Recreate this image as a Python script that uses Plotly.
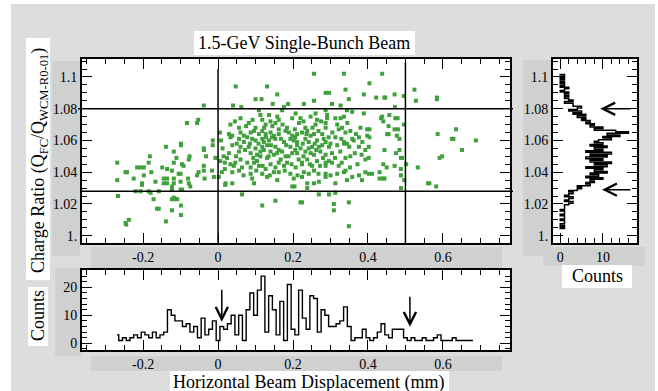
import plotly.graph_objects as go

W, H = 658, 391

# ---------------- data ----------------
# (horizontal displacement [mm], charge ratio) of each bunch
points = [
    (-0.038, 1.082), (-0.053, 1.073), (-0.056, 1.071), (-0.083, 1.071), (-0.099, 1.058), (-0.099, 1.057),
    (-0.139, 1.056), (-0.038, 1.055), (-0.038, 1.054), (-0.014, 1.060), (-0.014, 1.057), (-0.118, 1.053),
    (-0.182, 1.050), (-0.076, 1.050), (-0.111, 1.049), (-0.269, 1.046), (-0.185, 1.046), (-0.096, 1.045),
    (-0.092, 1.044), (-0.078, 1.048), (-0.118, 1.046), (-0.032, 1.050), (-0.007, 1.049), (0.015, 1.050),
    (-0.216, 1.043), (-0.207, 1.043), (-0.198, 1.043), (-0.149, 1.043), (-0.136, 1.042), (-0.123, 1.041),
    (-0.247, 1.040), (-0.243, 1.040), (-0.178, 1.040), (-0.198, 1.038), (-0.100, 1.039), (-0.056, 1.038),
    (-0.052, 1.040), (-0.038, 1.044), (-0.038, 1.041), (-0.016, 1.041), (-0.269, 1.035), (-0.225, 1.036),
    (-0.203, 1.033), (-0.203, 1.032), (-0.167, 1.034), (-0.145, 1.036), (-0.136, 1.036), (-0.145, 1.033),
    (-0.136, 1.033), (-0.118, 1.036), (-0.118, 1.033), (-0.123, 1.031), (-0.105, 1.039), (-0.100, 1.034),
    (-0.080, 1.036), (-0.078, 1.033), (-0.074, 1.031), (-0.036, 1.036), (-0.011, 1.037), (0.002, 1.037),
    (0.019, 1.032), (-0.220, 1.028), (-0.207, 1.028), (-0.185, 1.028), (-0.180, 1.027), (-0.158, 1.028),
    (-0.172, 1.023), (-0.267, 1.025), (-0.123, 1.029), (-0.118, 1.024), (-0.114, 1.023), (-0.109, 1.023),
    (-0.123, 1.023), (-0.100, 1.029), (-0.096, 1.029), (-0.163, 1.017), (-0.158, 1.017), (-0.123, 1.016),
    (-0.099, 1.019), (-0.099, 1.013), (-0.238, 1.010), (-0.247, 1.008), (-0.245, 1.007), (-0.139, 1.009),
    (0.018, 1.046), (0.018, 1.042), (0.008, 1.060), (0.012, 1.055), (0.006, 1.047), (0.010, 1.040),
    (0.005, 1.065),
    (0.256, 1.102), (0.336, 1.102), (0.047, 1.094), (0.131, 1.094), (0.287, 1.090), (0.296, 1.090),
    (0.340, 1.092), (0.158, 1.089), (0.100, 1.086), (0.116, 1.086), (0.256, 1.085), (0.349, 1.086),
    (0.389, 1.089), (0.146, 1.083), (0.187, 1.083), (0.229, 1.083), (0.304, 1.083), (0.327, 1.082),
    (0.040, 1.082), (0.062, 1.081),
    (0.109, 1.079), (0.136, 1.076), (0.171, 1.079), (0.176, 1.081), (0.207, 1.077), (0.260, 1.077),
    (0.287, 1.079), (0.291, 1.076), (0.344, 1.079), (0.358, 1.078), (0.389, 1.077),
    (0.060, 1.074), (0.113, 1.076), (0.118, 1.073), (0.140, 1.072), (0.162, 1.073), (0.198, 1.074),
    (0.220, 1.074), (0.247, 1.075), (0.264, 1.073), (0.291, 1.074), (0.313, 1.074), (0.327, 1.074),
    (0.336, 1.075), (0.287, 1.071),
    (0.033, 1.070), (0.056, 1.068), (0.082, 1.071), (0.100, 1.068), (0.127, 1.070), (0.153, 1.071),
    (0.162, 1.067), (0.184, 1.068), (0.216, 1.071), (0.233, 1.068), (0.260, 1.070), (0.287, 1.068),
    (0.322, 1.067), (0.331, 1.068), (0.380, 1.068), (0.398, 1.067),
    (0.029, 1.064), (0.038, 1.063), (0.060, 1.065), (0.069, 1.063), (0.087, 1.065), (0.096, 1.066),
    (0.109, 1.064), (0.118, 1.066), (0.127, 1.064), (0.140, 1.065), (0.149, 1.063), (0.162, 1.064),
    (0.189, 1.065), (0.198, 1.063), (0.211, 1.064), (0.224, 1.065), (0.247, 1.063), (0.256, 1.064),
    (0.278, 1.064), (0.313, 1.062), (0.340, 1.065), (0.353, 1.066), (0.362, 1.060), (0.398, 1.063),
    (0.033, 1.062), (0.056, 1.061), (0.069, 1.059), (0.091, 1.061), (0.100, 1.060), (0.118, 1.061),
    (0.122, 1.059), (0.136, 1.060), (0.144, 1.062), (0.153, 1.061), (0.176, 1.059), (0.193, 1.061),
    (0.202, 1.060), (0.211, 1.059), (0.233, 1.061), (0.242, 1.059), (0.264, 1.060), (0.287, 1.059),
    (0.300, 1.058), (0.336, 1.059), (0.344, 1.058), (0.358, 1.061), (0.376, 1.062), (0.402, 1.056),
    (0.038, 1.057), (0.060, 1.056), (0.082, 1.056), (0.100, 1.055), (0.118, 1.056), (0.131, 1.057),
    (0.153, 1.056), (0.162, 1.054), (0.193, 1.056), (0.211, 1.057), (0.220, 1.055), (0.242, 1.055),
    (0.251, 1.056), (0.269, 1.056), (0.278, 1.057), (0.296, 1.056), (0.336, 1.058), (0.376, 1.056),
    (0.029, 1.052), (0.056, 1.053), (0.087, 1.052), (0.104, 1.051), (0.113, 1.053), (0.140, 1.053),
    (0.149, 1.051), (0.171, 1.053), (0.180, 1.050), (0.198, 1.052), (0.211, 1.052), (0.233, 1.053),
    (0.247, 1.052), (0.256, 1.051), (0.273, 1.053), (0.287, 1.051), (0.304, 1.052), (0.353, 1.050),
    (0.393, 1.054),
    (0.024, 1.049), (0.033, 1.045), (0.060, 1.048), (0.096, 1.046), (0.113, 1.050), (0.131, 1.049),
    (0.140, 1.045), (0.167, 1.048), (0.184, 1.046), (0.224, 1.046), (0.238, 1.048), (0.264, 1.047),
    (0.287, 1.046), (0.304, 1.046), (0.340, 1.049), (0.393, 1.048), (0.402, 1.049),
    (0.042, 1.044), (0.064, 1.043), (0.087, 1.043), (0.109, 1.044), (0.127, 1.042), (0.153, 1.043),
    (0.176, 1.044), (0.207, 1.043), (0.224, 1.045), (0.251, 1.044), (0.256, 1.041), (0.287, 1.044),
    (0.322, 1.044), (0.340, 1.041),
    (0.038, 1.040), (0.056, 1.041), (0.087, 1.039), (0.118, 1.039), (0.149, 1.040), (0.162, 1.040),
    (0.193, 1.039), (0.229, 1.040), (0.242, 1.039), (0.287, 1.039), (0.300, 1.038), (0.336, 1.040),
    (0.376, 1.038), (0.393, 1.040), (0.402, 1.039),
    (0.020, 1.033), (0.038, 1.033), (0.091, 1.036), (0.096, 1.033), (0.131, 1.037), (0.158, 1.035),
    (0.202, 1.036), (0.224, 1.037), (0.238, 1.033), (0.256, 1.033), (0.269, 1.034), (0.287, 1.037),
    (0.313, 1.033), (0.344, 1.035), (0.384, 1.035), (0.198, 1.031), (0.204, 1.031), (0.238, 1.030),
    (0.064, 1.026), (0.118, 1.019), (0.153, 1.022), (0.220, 1.021), (0.224, 1.021), (0.269, 1.026),
    (0.296, 1.026), (0.309, 1.020), (0.309, 1.016), (0.313, 1.027), (0.349, 1.021), (0.349, 1.006),
    (0.438, 1.102), (0.404, 1.096), (0.422, 1.087), (0.444, 1.087), (0.446, 1.087), (0.471, 1.089),
    (0.496, 1.088), (0.524, 1.092), (0.528, 1.085), (0.584, 1.087), (0.584, 1.086), (0.472, 1.081),
    (0.438, 1.075), (0.435, 1.074), (0.441, 1.072), (0.457, 1.076), (0.473, 1.074), (0.479, 1.074),
    (0.496, 1.070), (0.455, 1.069), (0.471, 1.067), (0.480, 1.067), (0.404, 1.067), (0.451, 1.064),
    (0.455, 1.064), (0.477, 1.063), (0.484, 1.061), (0.404, 1.062), (0.586, 1.064), (0.635, 1.067),
    (0.624, 1.061), (0.628, 1.061), (0.688, 1.060), (0.651, 1.054), (0.444, 1.054), (0.484, 1.054),
    (0.475, 1.052), (0.488, 1.049), (0.491, 1.049), (0.598, 1.050), (0.591, 1.049), (0.441, 1.045),
    (0.450, 1.043), (0.471, 1.044), (0.502, 1.045), (0.533, 1.043), (0.488, 1.042), (0.431, 1.040),
    (0.411, 1.039), (0.488, 1.038), (0.431, 1.036), (0.440, 1.036), (0.444, 1.036), (0.497, 1.035),
    (0.560, 1.033), (0.564, 1.033), (0.582, 1.031), (0.488, 1.030),
    # denser core of the distribution
    (0.045, 1.072), (0.075, 1.069), (0.092, 1.073), (0.123, 1.068), (0.145, 1.069), (0.158, 1.075),
    (0.172, 1.070), (0.180, 1.066), (0.205, 1.067), (0.228, 1.072), (0.238, 1.066), (0.252, 1.068),
    (0.268, 1.066), (0.275, 1.072), (0.305, 1.065), (0.318, 1.070), (0.345, 1.071), (0.368, 1.064),
    (0.050, 1.058), (0.078, 1.062), (0.085, 1.058), (0.108, 1.058), (0.128, 1.062), (0.141, 1.057),
    (0.168, 1.061), (0.182, 1.057), (0.206, 1.062), (0.226, 1.058), (0.236, 1.064), (0.258, 1.058),
    (0.282, 1.061), (0.295, 1.062), (0.318, 1.057), (0.329, 1.061), (0.350, 1.056), (0.385, 1.059),
    (0.048, 1.050), (0.072, 1.054), (0.094, 1.049), (0.122, 1.054), (0.135, 1.050), (0.158, 1.052),
    (0.188, 1.050), (0.206, 1.054), (0.228, 1.050), (0.262, 1.054), (0.280, 1.049), (0.312, 1.049),
    (0.326, 1.053), (0.365, 1.052), (0.383, 1.051), (0.046, 1.046), (0.078, 1.046), (0.104, 1.047),
    (0.119, 1.044), (0.162, 1.046), (0.196, 1.045), (0.215, 1.048), (0.245, 1.045), (0.272, 1.044),
    (0.296, 1.047), (0.330, 1.046), (0.352, 1.043), (0.372, 1.045), (0.068, 1.038), (0.102, 1.041),
    (0.138, 1.038), (0.178, 1.041), (0.212, 1.038), (0.268, 1.039), (0.318, 1.039), (0.358, 1.037),
]
disp_mm = [p[0] for p in points]
charge_ratio = [p[1] for p in points]

# histogram of displacement (bottom panel)
disp_bin_start, disp_bin_width = -0.27, 0.01
disp_counts = [
    3, 1, 2, 1, 2, 3, 2, 4, 3, 2,
    4, 2, 3, 4, 12, 10, 8, 8, 6, 7,
    4, 6, 2, 9, 3, 5, 8, 1, 6, 5,
    7, 10, 3, 10, 1, 12, 18, 10, 19, 24,
    4, 17, 12, 3, 15, 1, 21, 5, 3, 19,
    9, 5, 17, 16, 4, 12, 10, 6, 6, 7,
    8, 13, 6, 1, 2, 2, 5, 2, 1, 2,
    4, 7, 3, 2, 5, 5, 5, 2, 1, 2,
    1, 1, 2, 1, 1, 2, 3, 1, 1, 1,
    2, 1, 1, 1, 1, 1,
]
disp_bins = [round(disp_bin_start + i * disp_bin_width, 4) for i in range(len(disp_counts))]

# histogram of charge ratio (right panel)
ratio_bin_start, ratio_bin_width = 1.004, 0.001
ratio_counts = [
    1, 0, 1, 0, 1, 1, 0, 1, 1, 0,
    1, 1, 0, 1, 1, 1, 2, 3, 1, 2,
    3, 1, 2, 3, 2, 4, 5, 4, 7, 6,
    8, 7, 10, 6, 9, 7, 11, 8, 10, 6,
    11, 8, 12, 7, 10, 6, 11, 7, 12, 6,
    10, 8, 11, 7, 10, 8, 9, 12, 10, 14,
    11, 16, 13, 8, 10, 7, 8, 6, 7, 5,
    6, 4, 6, 3, 5, 2, 4, 5, 3, 3,
    1, 3, 2, 1, 2, 1, 2, 0, 1, 2,
    0, 1, 0, 1, 0, 1, 0, 1, 0,
]
ratio_bins = [round(ratio_bin_start + i * ratio_bin_width, 4) for i in range(len(ratio_counts))]

x_ticks = [-0.2, 0, 0.2, 0.4, 0.6]
x_tick_text = ["-0.2", "0", "0.2", "0.4", "0.6"]
y_ticks = [1.0, 1.02, 1.04, 1.06, 1.08, 1.1]
y_tick_text = ["1.", "1.02", "1.04", "1.06", "1.08", "1.1"]
bottom_count_ticks = [0, 10, 20]
right_count_ticks = [0, 10]

cut_x = [0.0, 0.5]
cut_x_top = [1.105, 1.109]
cut_y = [1.08, 1.028]
disp_arrows = [(0.01, 7.7, 19.7), (0.512, 5.9, 17.2)]     # x, tip count, tail count
ratio_arrows = [(1.08, 9.4, 16.8), (1.029, 9.8, 16.8)]    # y, tip count, tail count

X_RANGE = [-0.363, 0.779]
Y_RANGE = [0.9954, 1.1113]

# ---------------- layout helpers ----------------
def PX(x):
    return x / W

def PY(y):
    return 1 - y / H

FONT = "Liberation Serif"
GRAY_BG = "#dcdddc"
GRAY_BOX = "#cfd0d0"
GREEN = "#40a03c"

fig = go.Figure()

fig.add_trace(go.Scatter(
    x=disp_mm, y=charge_ratio, mode="markers", xaxis="x", yaxis="y",
    marker=dict(symbol="square", size=4, color=GREEN, line=dict(width=0)),
    showlegend=False, hoverinfo="skip"))

fig.add_trace(go.Scatter(
    x=ratio_counts, y=ratio_bins, mode="lines", xaxis="x2", yaxis="y2",
    line=dict(color="black", width=1.5, shape="vhv"), showlegend=False, hoverinfo="skip"))

fig.add_trace(go.Scatter(
    x=disp_bins, y=disp_counts, mode="lines", xaxis="x3", yaxis="y3",
    line=dict(color="black", width=1.4, shape="hvh"), showlegend=False, hoverinfo="skip"))

tickfont = dict(family=FONT, size=14, color="black")
common = dict(showline=True, linecolor="black", linewidth=2, mirror="allticks",
              ticks="inside", tickcolor="black", tickwidth=1.4, ticklen=10,
              showgrid=False, zeroline=False, tickfont=tickfont, fixedrange=True)

dom_x_main = [PX(82), PX(510)]
dom_y_main = [PY(243), PY(59)]
dom_x_right = [PX(553), PX(637)]
dom_y_bottom = [PY(350), PY(270)]

def minor(dt, t0):
    return dict(dtick=dt, tick0=t0, ticklen=5, ticks="inside", tickcolor="black", tickwidth=1.1)

fig.update_layout(
    width=W, height=H, margin=dict(l=0, r=0, t=0, b=0),
    paper_bgcolor=GRAY_BG, plot_bgcolor="white",
    xaxis=dict(domain=dom_x_main, range=X_RANGE, anchor="y", tickmode="array",
               tickvals=x_ticks, ticktext=x_tick_text, minor=minor(0.05, 0), **common),
    yaxis=dict(domain=dom_y_main, range=Y_RANGE, anchor="x", tickmode="array",
               tickvals=y_ticks, ticktext=y_tick_text, minor=minor(0.005, 1.0), **common),
    xaxis2=dict(domain=dom_x_right, range=[-1.7, 18.0], anchor="y2", tickmode="array",
                tickvals=right_count_ticks, ticktext=[str(v) for v in right_count_ticks],
                minor=minor(2, 0), **common),
    yaxis2=dict(domain=dom_y_main, range=Y_RANGE, anchor="x2", tickmode="array",
                tickvals=y_ticks, ticktext=y_tick_text, minor=minor(0.005, 1.0), **common),
    xaxis3=dict(domain=dom_x_main, range=X_RANGE, anchor="y3", tickmode="array",
                tickvals=x_ticks, ticktext=x_tick_text, minor=minor(0.05, 0), **common),
    yaxis3=dict(domain=dom_y_bottom, range=[-2.4, 26.2], anchor="x3", tickmode="array",
                tickvals=bottom_count_ticks, ticktext=[str(v) for v in bottom_count_ticks],
                minor=minor(2, 0), **common),
)

shapes = []
# white margins of the scanned page
for (x0, y0, x1, y1) in [(0, 0, W, 4), (0, 0, 11, H), (655, 0, W, H)]:
    shapes.append(dict(type="rect", xref="paper", yref="paper", x0=PX(x0), x1=PX(x1),
                       y0=PY(y1), y1=PY(y0), fillcolor="white", line=dict(width=0), layer="below"))
# gray tick-label boxes
for (x0, y0, x1, y1) in [(52, 61, 80, 256), (91, 247, 502, 268), (55, 268, 81, 356),
                         (91, 356, 502, 371), (523, 60, 552, 256), (543, 247, 645, 266)]:
    shapes.append(dict(type="rect", xref="paper", yref="paper", x0=PX(x0), x1=PX(x1),
                       y0=PY(y1), y1=PY(y0), fillcolor=GRAY_BOX, line=dict(width=0), layer="below"))
# white label boxes
for (x0, y0, x1, y1) in [(194, 31, 415, 55), (26, 38, 50, 280), (28, 287, 48, 346),
                         (562, 265, 632, 288), (170, 371, 449, 391)]:
    shapes.append(dict(type="rect", xref="paper", yref="paper", x0=PX(x0), x1=PX(x1),
                       y0=PY(y1), y1=PY(y0), fillcolor="white", line=dict(width=0), layer="below"))
# cut lines in the scatter panel
for xv, ytop in zip(cut_x, cut_x_top):
    shapes.append(dict(type="line", xref="x", yref="y", x0=xv, x1=xv, y0=Y_RANGE[0], y1=ytop,
                       line=dict(color="black", width=1.5)))
for yv, xs in zip(cut_y, [78, 82]):
    shapes.append(dict(type="line", xref="paper", yref="y", x0=PX(xs), x1=PX(513), y0=yv, y1=yv,
                       line=dict(color="black", width=1.5)))
fig.update_layout(shapes=shapes)

ann = []
lab = dict(family=FONT, size=18, color="black")
ann.append(dict(text="1.5-GeV Single-Bunch Beam", xref="paper", yref="paper",
                x=PX(304), y=PY(43), showarrow=False, font=lab, xanchor="center", yanchor="middle"))
ann.append(dict(text="Charge Ratio (Q<sub>FC</sub>/Q<sub>WCM-R0-01</sub>)", xref="paper", yref="paper",
                x=PX(39), y=PY(161), showarrow=False, font=lab, textangle=-90,
                xanchor="center", yanchor="middle"))
ann.append(dict(text="Counts", xref="paper", yref="paper", x=PX(38), y=PY(316), showarrow=False,
                font=lab, textangle=-90, xanchor="center", yanchor="middle"))
ann.append(dict(text="Counts", xref="paper", yref="paper", x=PX(597), y=PY(276), showarrow=False,
                font=lab, xanchor="center", yanchor="middle"))
ann.append(dict(text="Horizontal Beam Displacement (mm)", xref="paper", yref="paper",
                x=PX(308), y=PY(371), showarrow=False, font=lab, xanchor="center", yanchor="top",
                borderpad=0))
for xv, tip, tail in disp_arrows:
    ann.append(dict(x=xv, y=tip, xref="x3", yref="y3", ax=xv, ay=tail, axref="x3", ayref="y3",
                    showarrow=True, arrowhead=5, arrowsize=1.6, arrowwidth=1.5, arrowcolor="black",
                    text=""))
for yv, tip, tail in ratio_arrows:
    ann.append(dict(x=tip, y=yv, xref="x2", yref="y2", ax=tail, ay=yv, axref="x2", ayref="y2",
                    showarrow=True, arrowhead=5, arrowsize=1.6, arrowwidth=1.5, arrowcolor="black",
                    text=""))
fig.update_layout(annotations=ann)

fig.write_html("out.html", config={"displayModeBar": False},
               post_script="document.body.style.margin='0';")
